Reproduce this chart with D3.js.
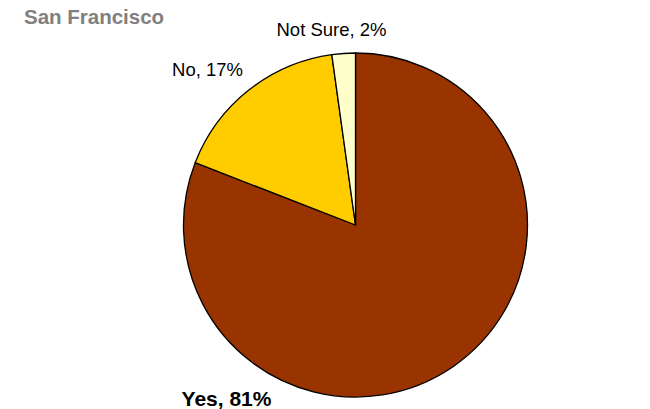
<!DOCTYPE html>
<meta charset="utf-8">
<style>
body { margin: 0; background: #fff; }
text { font-family: "Liberation Sans", Arial, sans-serif; }
.title { font-size: 20.5px; font-weight: bold; fill: #808080; }
.label { fill: #000; }
</style>
<body>
<div id="chart"></div>
<script src="https://cdn.jsdelivr.net/npm/d3@7"></script>
<script>
var categories = ["Yes", "No", "Not Sure"];
var values = [80.9, 16.9, 2.2];
var colors = ["#993300", "#FFCC00", "#FFFFCC"];
var labelBold = [true, false, false];

// label anchor points, relative to pie centre
var labelOffsets = [[-129, 181], [-148, -149], [-24, -189]];

var width = 650, height = 409,
    cx = 355.5, cy = 225, radius = 172;

var svg = d3.select("#chart").append("svg")
    .attr("width", width)
    .attr("height", height);

svg.append("text")
    .attr("class", "title")
    .attr("x", 24)
    .attr("y", 24)
    .text("San Francisco");

var data = categories.map(function (c, i) { return {name: c, value: values[i], i: i}; });

var pie = d3.pie()
    .sort(null)
    .value(function (d) { return d.value; });

var arc = d3.arc().innerRadius(0).outerRadius(radius);

var g = svg.append("g")
    .attr("transform", "translate(" + cx + "," + cy + ")");

g.selectAll("path")
    .data(pie(data))
    .enter().append("path")
    .attr("d", arc)
    .attr("fill", function (d) { return colors[d.data.i]; })
    .attr("stroke", "#000")
    .attr("stroke-width", 1.3)
    .attr("stroke-linejoin", "round");

g.selectAll(".label")
    .data(data)
    .enter().append("text")
    .attr("class", "label")
    .attr("x", function (d) { return labelOffsets[d.i][0]; })
    .attr("y", function (d) { return labelOffsets[d.i][1]; })
    .attr("text-anchor", "middle")
    .style("font-weight", function (d) { return labelBold[d.i] ? "bold" : "normal"; })
    .style("font-size", function (d) { return labelBold[d.i] ? "21px" : "18.5px"; })
    .text(function (d) { return d.name + ", " + Math.round(d.value) + "%"; });
</script>
